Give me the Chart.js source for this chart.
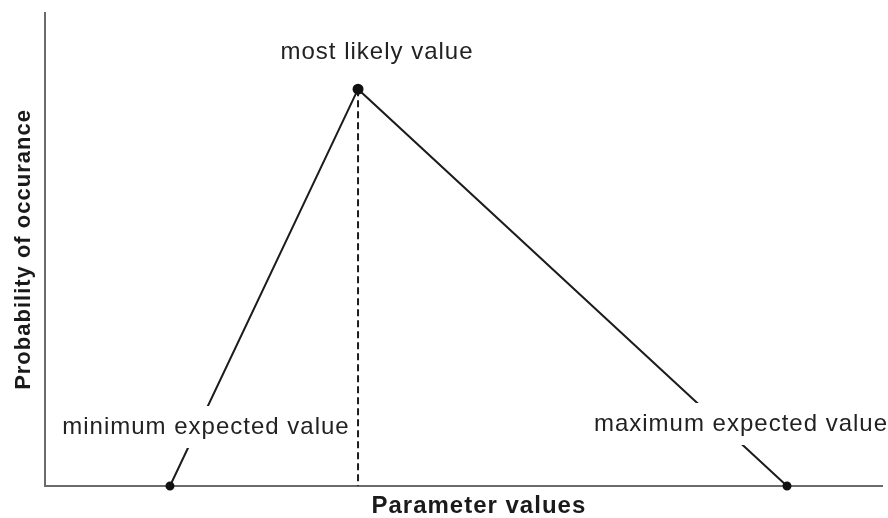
<!DOCTYPE html>
<html>
<head>
<meta charset="utf-8">
<script src="https://cdn.jsdelivr.net/npm/chart.js@4.4.1/dist/chart.umd.min.js"></script>
<style>
    html, body { margin: 0; padding: 0; background: #fff; }
    canvas { display: block; }
</style>
</head>
<body>
<canvas id="grafico" width="888" height="518"></canvas>
<script>
// min, most likely, max (x in parameter units, y = probability)
var pontosX = [14.93, 37.4, 88.65];
var pontosY = [0, 0.839, 0];
var rotulos = ['minimum expected value', 'most likely value', 'maximum expected value'];
var tituloX = 'Parameter values';
var tituloY = 'Probability of occurance';

var fonte = '"Liberation Sans", Arial, sans-serif';

var pontos = pontosX.map(function (x, i) {
    return { x: x, y: pontosY[i] };
});

// labels over the triangle, with a white box hiding the line behind them
var rotulosPlugin = {
    id: 'rotulos',
    beforeDraw: function (chart) {
        chart.ctx.letterSpacing = '1px';
    },
    afterDatasetsDraw: function (chart) {
        var ctx = chart.ctx;
        var escalaX = chart.scales.x;
        var escalaY = chart.scales.y;
        var desloc = [[36, -59, true], [19, -37, false], [-46, -62, true]];

        ctx.save();
        ctx.letterSpacing = '1px';
        ctx.font = '24px ' + fonte;
        ctx.textAlign = 'center';
        ctx.textBaseline = 'middle';
        for (var i = 0; i < rotulos.length; i++) {
            var px = escalaX.getPixelForValue(pontosX[i]) + desloc[i][0];
            var py = escalaY.getPixelForValue(pontosY[i]) + desloc[i][1];
            if (desloc[i][2]) {
                var w = ctx.measureText(rotulos[i]).width;
                ctx.fillStyle = '#ffffff';
                ctx.fillRect(px - w / 2 - 2, py - 21, w + 4, 42);
            }
            ctx.fillStyle = '#222222';
            ctx.fillText(rotulos[i], px, py);
        }
        ctx.restore();
    }
};

var ctx = document.getElementById('grafico').getContext('2d');
new Chart(ctx, {
    type: 'scatter',
    data: {
        datasets: [{
            data: pontos,
            showLine: true,
            borderColor: '#1c1c1c',
            borderWidth: 2,
            pointRadius: [3.5, 4.5, 3.5],
            pointBackgroundColor: '#111111',
            pointBorderColor: '#111111',
            clip: false
        }, {
            data: [{ x: pontosX[1], y: pontosY[1] }, { x: pontosX[1], y: 0 }],
            showLine: true,
            borderColor: '#1c1c1c',
            borderWidth: 2,
            borderDash: [7, 4],
            pointRadius: 0,
            clip: false
        }]
    },
    options: {
        responsive: false,
        animation: false,
        layout: {
            padding: { left: 6.8, right: 0, top: 13, bottom: 0 }
        },
        plugins: {
            legend: { display: false },
            tooltip: { enabled: false }
        },
        scales: {
            x: {
                type: 'linear',
                min: 0,
                max: 100,
                grid: { display: false, drawTicks: false },
                ticks: { display: false },
                border: { display: true, color: '#6b6b6b', width: 2 },
                title: {
                    display: true,
                    text: '    ' + tituloX,
                    color: '#1a1a1a',
                    font: { family: fonte, size: 24, weight: 'bold', lineHeight: 1 },
                    padding: { top: 8, bottom: 0 }
                }
            },
            y: {
                type: 'linear',
                min: 0,
                max: 1,
                grid: { display: false, drawTicks: false },
                ticks: { display: false },
                border: { display: true, color: '#6b6b6b', width: 2 },
                title: {
                    display: true,
                    text: tituloY,
                    color: '#1a1a1a',
                    font: { family: fonte, size: 22, weight: 'bold', lineHeight: 1.2 },
                    padding: { top: 4, bottom: 7.8 }
                }
            }
        }
    },
    plugins: [rotulosPlugin]
});
</script>
</body>
</html>
